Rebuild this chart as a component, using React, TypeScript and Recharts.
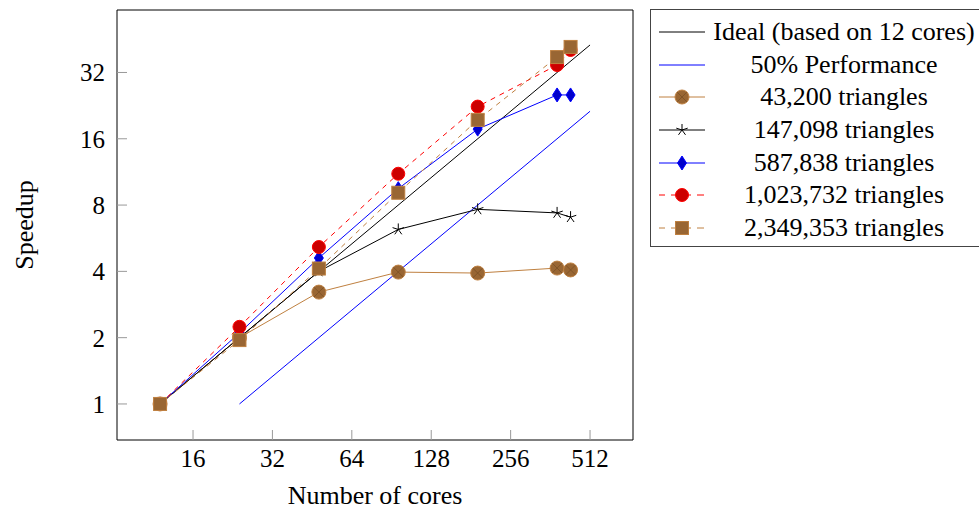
import React from "react";
import { LineChart, Line, XAxis, YAxis } from "recharts";

const cores = [12, 24, 48, 96, 192, 384, 432];
const tri43200 = [1, 2.0, 3.22, 3.97, 3.93, 4.14, 4.06];
const tri147098 = [1, 2.0, 4.0, 6.2, 7.65, 7.37, 7.05];
const tri587838 = [1, 2.1, 4.6, 9.5, 17.7, 25.3, 25.3];
const tri1023732 = [1, 2.24, 5.16, 11.1, 22.4, 34.6, 40.5];
const tri2349353 = [1, 1.95, 4.12, 9.1, 19.5, 37.6, 41.8];

const idealCores = [12, 512];
const idealSpeedup = [1, 42.67];
const halfCores = [24, 512];
const halfSpeedup = [1, 21.33];

const xTicks = [16, 32, 64, 128, 256, 512];
const yTicks = [1, 2, 4, 8, 16, 32];

const FONT = "Liberation Serif, DejaVu Serif, serif";
const BROWN = "#bf8040";
const BROWN_FILL = "#996633";

const toPoints = (xs: number[], ys: number[]) => xs.map((x, i) => ({ x, y: ys[i] }));

const OtimesDot = (p: any) => {
  const { cx, cy } = p;
  if (cx == null || cy == null) return <g key={p.key} />;
  const r = 7;
  const d = r * 0.7;
  return (
    <g key={p.key}>
      <circle cx={cx} cy={cy} r={r} fill={BROWN_FILL} stroke={BROWN} strokeWidth={1} />
      <line x1={cx - d} y1={cy - d} x2={cx + d} y2={cy + d} stroke="#7a4f24" strokeWidth={0.8} />
      <line x1={cx - d} y1={cy + d} x2={cx + d} y2={cy - d} stroke="#7a4f24" strokeWidth={0.8} />
    </g>
  );
};

const StarDot = (p: any) => {
  const { cx, cy } = p;
  if (cx == null || cy == null) return <g key={p.key} />;
  const r = 6;
  const arms = [0, 1, 2, 3, 4].map((k) => {
    const a = -Math.PI / 2 + (k * 2 * Math.PI) / 5;
    return <line key={k} x1={cx} y1={cy} x2={cx + r * Math.cos(a)} y2={cy + r * Math.sin(a)} stroke="#000" strokeWidth={1} />;
  });
  return <g key={p.key}>{arms}</g>;
};

const DiamondDot = (p: any) => {
  const { cx, cy } = p;
  if (cx == null || cy == null) return <g key={p.key} />;
  const w = 4.5;
  const h = 7;
  return (
    <path
      key={p.key}
      d={`M${cx},${cy - h}L${cx + w},${cy}L${cx},${cy + h}L${cx - w},${cy}Z`}
      fill="#0000cc"
      stroke="#0000ff"
      strokeWidth={1}
    />
  );
};

const RedDot = (p: any) => {
  const { cx, cy } = p;
  if (cx == null || cy == null) return <g key={p.key} />;
  return <circle key={p.key} cx={cx} cy={cy} r={6.5} fill="#cc0000" stroke="#ff0000" strokeWidth={1} />;
};

const SquareDot = (p: any) => {
  const { cx, cy } = p;
  if (cx == null || cy == null) return <g key={p.key} />;
  const s = 6.5;
  return <rect key={p.key} x={cx - s} y={cy - s} width={2 * s} height={2 * s} fill={BROWN_FILL} stroke={BROWN} strokeWidth={1} />;
};

const legendItems = [
  { label: "Ideal (based on 12 cores)", color: "#000", dash: undefined, Dot: null },
  { label: "50% Performance", color: "#0000ff", dash: undefined, Dot: null },
  { label: "43,200 triangles", color: BROWN, dash: undefined, Dot: OtimesDot },
  { label: "147,098 triangles", color: "#000", dash: undefined, Dot: StarDot },
  { label: "587,838 triangles", color: "#0000ff", dash: undefined, Dot: DiamondDot },
  { label: "1,023,732 triangles", color: "#ff0000", dash: "5 5", Dot: RedDot },
  { label: "2,349,353 triangles", color: BROWN, dash: "5 5", Dot: SquareDot },
];

const axisStyle = {
  axisLine: { stroke: "#000", strokeWidth: 1 },
  tickLine: { stroke: "#999", strokeWidth: 1 },
  tickSize: -10,
};

export default function App() {
  return (
    <div style={{ position: "absolute", left: 0, top: 0, width: 979, height: 510, overflow: "hidden", background: "#fff" }}>
      <LineChart width={979} height={510} margin={{ top: 9, right: 345, bottom: 30, left: 57 }}>
        <XAxis
          xAxisId="b"
          type="number"
          dataKey="x"
          scale="log"
          domain={[8.24, 745]}
          allowDataOverflow
          ticks={xTicks}
          height={40}
          tickMargin={19}
          tick={{ fill: "#000", fontSize: 25, fontFamily: FONT }}
          label={{ value: "Number of cores", position: "insideBottom", offset: -24, fill: "#000", fontSize: 26, fontFamily: FONT }}
          {...axisStyle}
        />
        <XAxis
          xAxisId="t"
          orientation="top"
          type="number"
          dataKey="x"
          scale="log"
          domain={[8.24, 745]}
          allowDataOverflow
          ticks={xTicks}
          height={1}
          tick={false}
          {...axisStyle}
        />
        <YAxis
          yAxisId="l"
          type="number"
          dataKey="y"
          scale="log"
          domain={[0.686, 61.5]}
          allowDataOverflow
          ticks={yTicks}
          width={60}
          tickMargin={22}
          tick={{ fill: "#000", fontSize: 25, fontFamily: FONT }}
          label={{
            content: (lp: any) => {
              const vb = lp.viewBox || { x: 57, y: 10, width: 60, height: 430 };
              const x = vb.x - 33;
              const y = vb.y + vb.height / 2;
              return (
                <text x={x} y={y} transform={`rotate(-90, ${x}, ${y})`} textAnchor="middle" dominantBaseline="central" fill="#000" fontSize={26} fontFamily={FONT}>
                  Speedup
                </text>
              );
            },
          }}
          {...axisStyle}
        />
        <YAxis
          yAxisId="r"
          orientation="right"
          type="number"
          dataKey="y"
          scale="log"
          domain={[0.686, 61.5]}
          allowDataOverflow
          ticks={yTicks}
          width={1}
          tick={false}
          {...axisStyle}
        />
        <Line xAxisId="b" yAxisId="l" data={toPoints(idealCores, idealSpeedup)} dataKey="y" stroke="#000" strokeWidth={1} dot={false} isAnimationActive={false} />
        <Line xAxisId="b" yAxisId="l" data={toPoints(halfCores, halfSpeedup)} dataKey="y" stroke="#0000ff" strokeWidth={1} dot={false} isAnimationActive={false} />
        <Line xAxisId="b" yAxisId="l" data={toPoints(cores, tri43200)} dataKey="y" stroke={BROWN} strokeWidth={1} dot={OtimesDot} isAnimationActive={false} />
        <Line xAxisId="b" yAxisId="l" data={toPoints(cores, tri147098)} dataKey="y" stroke="#000" strokeWidth={1} dot={StarDot} isAnimationActive={false} />
        <Line xAxisId="b" yAxisId="l" data={toPoints(cores, tri587838)} dataKey="y" stroke="#0000ff" strokeWidth={1} dot={DiamondDot} isAnimationActive={false} />
        <Line xAxisId="b" yAxisId="l" data={toPoints(cores, tri1023732)} dataKey="y" stroke="#ff0000" strokeWidth={1} strokeDasharray="5 5" dot={RedDot} isAnimationActive={false} />
        <Line xAxisId="b" yAxisId="l" data={toPoints(cores, tri2349353)} dataKey="y" stroke={BROWN} strokeWidth={1} strokeDasharray="5 5" dot={SquareDot} isAnimationActive={false} />
        {/* top/right axes only draw the frame and inner ticks; bind a hidden line so they get a scale */}
        <Line xAxisId="t" yAxisId="r" data={toPoints(idealCores, idealSpeedup)} dataKey="y" stroke="none" dot={false} legendType="none" isAnimationActive={false} />
      </LineChart>
      <div
        style={{
          position: "absolute",
          left: 650,
          top: 9,
          width: 345,
          height: 238,
          border: "1px solid #444",
          boxSizing: "border-box",
          paddingTop: 6,
          paddingLeft: 8,
          fontFamily: FONT,
          fontSize: 26,
          color: "#000",
          background: "#fff",
        }}
      >
        {legendItems.map((it) => (
          <div key={it.label} style={{ display: "flex", alignItems: "center", height: 32.6 }}>
            <svg width={46} height={20} style={{ flex: "none" }}>
              <line x1={0} y1={10} x2={46} y2={10} stroke={it.color} strokeWidth={1} strokeDasharray={it.dash ? "7 6" : undefined} strokeDashoffset={it.dash ? 1 : undefined} />
              {it.Dot ? it.Dot({ cx: 23, cy: 10, key: "d" }) : null}
            </svg>
            <div style={{ width: 268, marginLeft: 5, textAlign: "center", whiteSpace: "nowrap", lineHeight: "32px" }}>{it.label}</div>
          </div>
        ))}
      </div>
    </div>
  );
}
